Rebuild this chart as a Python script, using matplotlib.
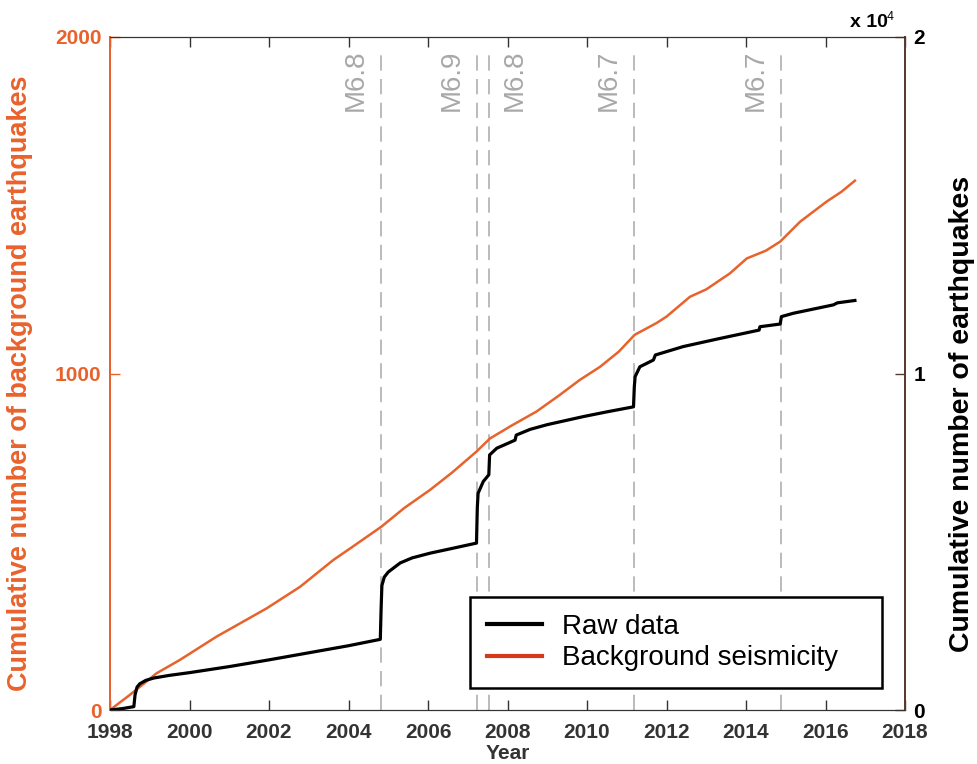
import matplotlib
matplotlib.use("Agg")
import matplotlib.pyplot as plt
from matplotlib.lines import Line2D

plt.rcParams['font.family'] = ['Liberation Sans', 'DejaVu Sans']

# ---- data ----
raw_years = [1998.0, 1998.3, 1998.6, 1998.63, 1998.68, 1998.75, 1998.9, 1999.1, 1999.5,
             2000.0, 2001.0, 2002.0, 2003.0, 2004.0, 2004.8, 2004.82, 2004.84, 2004.9,
             2005.0, 2005.3, 2005.6, 2006.05, 2006.6, 2007.22, 2007.24, 2007.26, 2007.39,
             2007.53, 2007.55, 2007.73, 2008.0, 2008.19, 2008.22, 2008.57, 2009.0, 2009.91,
             2010.5, 2011.17, 2011.19, 2011.21, 2011.33, 2011.67, 2011.72, 2012.42, 2013.26,
             2014.33, 2014.35, 2014.86, 2014.89, 2015.19, 2016.2, 2016.3, 2016.74]
raw_counts = [0, 40, 100, 450, 680, 780, 880, 950, 1030,
              1110, 1290, 1490, 1700, 1910, 2100, 3000, 3700, 3950,
              4100, 4370, 4520, 4660, 4800, 4960, 6000, 6440, 6790,
              6990, 7580, 7780, 7920, 8020, 8170, 8340, 8480, 8720,
              8860, 9010, 9600, 9906, 10200, 10400, 10550, 10800, 11020,
              11290, 11390, 11470, 11690, 11790, 12040, 12100, 12170]

bg_years = [1998.0, 1998.5, 1999.17, 1999.76, 2000.68, 2001.94, 2002.78, 2003.62, 2004.04,
            2004.83, 2005.4, 2006.05, 2006.6, 2007.22, 2007.56, 2008.1, 2008.73, 2009.3,
            2009.82, 2010.33, 2010.8, 2011.2, 2011.75, 2012.0, 2012.59, 2013.0, 2013.6,
            2014.02, 2014.5, 2014.86, 2015.36, 2016.03, 2016.4, 2016.74]
bg_counts = [0, 45, 109, 149, 218, 302, 366, 446, 480,
             545, 600, 654, 705, 768, 807, 845, 887, 935,
             981, 1020, 1065, 1115, 1150, 1169, 1228, 1250, 1298,
             1342, 1365, 1392, 1451, 1511, 1540, 1573]

event_years = [2004.82, 2007.24, 2007.54, 2011.19, 2014.88]
event_labels = ['M6.8', 'M6.9', 'M6.8', 'M6.7', 'M6.7']
event_side = ['left', 'left', 'right', 'left', 'left']

x_ticks = list(range(1998, 2019, 2))
left_ticks = [0, 1000, 2000]
right_ticks = [0, 10000, 20000]
right_ticklabels = ['0', '1', '2']

# ---- style ----
ORANGE = '#e8622c'
LEG_RED = '#d43a1a'
GREY = '#a8a8a8'
DARK = '#333333'
BROWN = '#5a3a2e'

fig = plt.figure(figsize=(9.77, 7.64), dpi=100)
ax1 = fig.add_axes([110/977, 54/764, 795/977, 673/764])
ax2 = ax1.twinx()

ax1.set_xlim(1998, 2018)
ax1.set_ylim(0, 2000)
ax2.set_ylim(0, 20000)

# event lines
for yr, lab, side in zip(event_years, event_labels, event_side):
    ax1.axvline(yr, ymin=0, ymax=0.984, color=GREY, lw=1.1,
                linestyle=(0, (10, 5.5)), zorder=1)
    if side == 'left':
        ax1.text(yr - 0.32, 1962, lab, rotation=90, ha='right', va='top',
                 color=GREY, fontsize=20)
    else:
        ax1.text(yr + 0.32, 1962, lab, rotation=90, ha='left', va='top',
                 color=GREY, fontsize=20)

ax1.plot(bg_years, bg_counts, color=ORANGE, lw=1.8, zorder=2)
ax2.plot(raw_years, raw_counts, color='black', lw=2.3, zorder=3)

# axes styling
ax1.set_xticks(x_ticks)
ax1.set_yticks(left_ticks)
ax2.set_yticks(right_ticks)
ax2.set_yticklabels(right_ticklabels)

ax1.tick_params(axis='x', direction='in', length=7, width=1, color=DARK,
                labelsize=15, labelcolor=DARK, top=True, pad=9)
ax1.tick_params(axis='y', direction='in', length=7, width=1, color=ORANGE,
                labelsize=15, labelcolor=ORANGE, pad=6)
ax2.tick_params(axis='y', direction='in', length=7, width=1, color=BROWN,
                labelsize=15, labelcolor='black', pad=6)
for lab in ax1.get_xticklabels() + ax1.get_yticklabels() + ax2.get_yticklabels():
    lab.set_fontweight('bold')

for ax in (ax1, ax2):
    ax.spines['top'].set_color(DARK)
    ax.spines['bottom'].set_color(DARK)
    ax.spines['left'].set_color(ORANGE)
    ax.spines['right'].set_color(BROWN)
    ax.spines['left'].set_linewidth(1.3)
    ax.spines['right'].set_linewidth(1.3)

ax1.set_xlabel('Year', fontsize=15, fontweight='bold', color=DARK, labelpad=2)
ax1.set_ylabel('Cumulative number of background earthquakes', fontsize=19.5,
               fontweight='bold', color=ORANGE)
ax1.yaxis.set_label_coords(-0.097, 0.485)
ax2.set_ylabel('Cumulative number of earthquakes', fontsize=20.5,
               fontweight='bold', color='black', rotation=90)
ax2.yaxis.set_label_coords(1.055, 0.44)

fig.text(850/977, 1 - 27/764, 'x 10', fontsize=14, fontweight='bold',
         ha='left', va='baseline')
fig.text(887/977, 1 - 20/764, '4', fontsize=9, ha='left', va='baseline')

handles = [Line2D([], [], color='black', lw=3),
           Line2D([], [], color=LEG_RED, lw=3)]
leg = ax2.legend(handles, ['Raw data', 'Background seismicity'],
                 loc='lower left', bbox_to_anchor=(0.4528, 0.0327, 0.518, 0.14),
                 mode='expand',
                 fontsize=20, frameon=True, fancybox=False, framealpha=1,
                 edgecolor='black', handlelength=2.0, handletextpad=0.7,
                 borderpad=0.6, labelspacing=0.2, borderaxespad=0)
leg.get_frame().set_linewidth(1.8)

fig.savefig('out.png', dpi=100)
